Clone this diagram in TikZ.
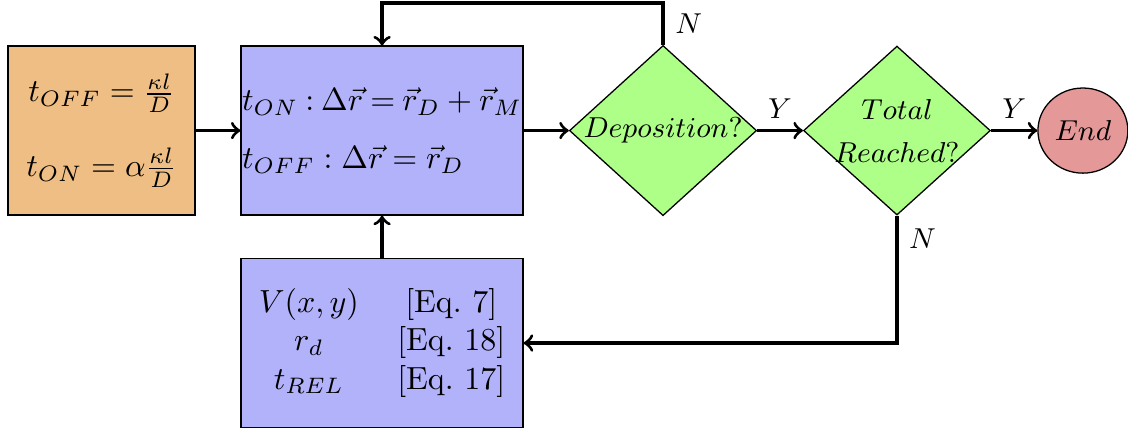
\documentclass[tikz,border=0pt]{standalone}
\usetikzlibrary{positioning,shapes.geometric}
\definecolor{boxorange}{RGB}{238,190,132}
\definecolor{boxblue}{RGB}{178,178,250}
\definecolor{decgreen}{RGB}{174,255,136}
\definecolor{endred}{RGB}{228,152,152}
\begin{document}
\begin{tikzpicture}[
    blk/.style={draw,rectangle,minimum width=88.1pt,minimum height=52.8pt,inner xsep=-1pt,inner ysep=0pt,fill=boxblue},
    dec/.style={draw,diamond,aspect=1.1,minimum width=58.4pt,minimum height=52.8pt,inner sep=0pt,fill=decgreen,font=\small},
    lbl/.style={font=\small},
    arr/.style={->,line width=1pt}]
    \useasboundingbox (-31.7pt,-94.2pt) rectangle (320.8pt,40.8pt);
    \node[draw,fill=boxorange,minimum width=58.4pt,minimum height=52.8pt,align=center] (times) at (0,0)
        {$t_{OFF}=\frac{\kappa l}{D}$\\[10pt]$t_{ON}=\alpha\frac{\kappa l}{D}$};
    \node[blk,align=left] (move) at (87.7pt,0)
        {\thickmuskip=4mu $t_{ON}:\Delta\vec{r}=\vec{r}_D+\vec{r}_M$\\[6pt]$t_{OFF}:\Delta\vec{r}=\vec{r}_D$};
    \node[blk] (eqs) at (87.7pt,-66.4pt)
        {\begin{tabular}{cc}$V(x,y)$ & [Eq.~7]\\ $r_d$ & [Eq.~18]\\ $t_{REL}$ & [Eq.~17]\end{tabular}};
    \node[dec] (dep) at (175.5pt,0) {$Deposition?$};
    \node[dec,inner ysep=-5pt,align=center] (tot) at (248.6pt,0) {$Total$\\[2.4pt]$Reached?$};
    \node[draw,ellipse,fill=endred,minimum width=28.1pt,minimum height=26.6pt,inner sep=0pt,font=\small] (end) at (306.7pt,0) {$End$};
    % connectors
    \draw[arr] (times) -- (move);
    \draw[arr] (move) -- (dep);
    \draw[arr] (dep) -- node[above,lbl] {$Y$} (tot);
    \draw[arr] (tot) -- node[above,lbl] {$Y$} (end);
    \draw[arr] (eqs) -- (move);
    \draw[arr] (dep.north) -- ++(0,13.1pt) node[midway,right,lbl] {$N$} -| (move.north);
    \draw[arr] (tot.south) |- node[pos=0.09,right,lbl] {$N$} (eqs.east);
\end{tikzpicture}
\end{document}
